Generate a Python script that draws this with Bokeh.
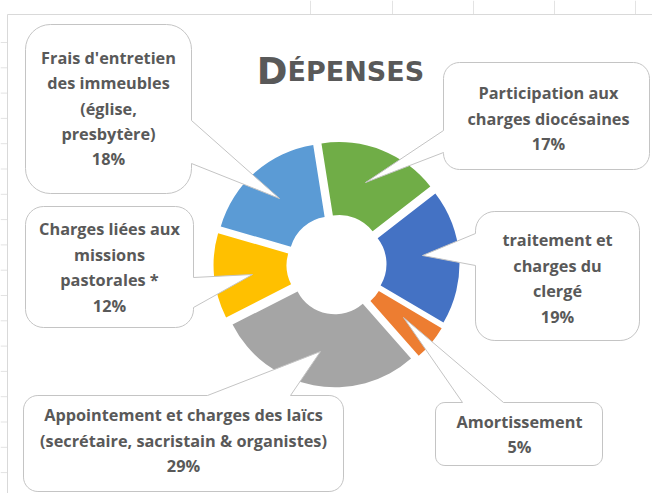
import math
from bokeh.plotting import figure
from bokeh.models import Range1d, ColumnDataSource
from bokeh.core.properties import value
from bokeh.embed import file_html
from bokeh.resources import INLINE

# ---------------- data ----------------
categories = [
    "Participation aux charges diocésaines",
    "traitement et charges du clergé",
    "Amortissement",
    "Appointement et charges des laïcs (secrétaire, sacristain & organistes)",
    "Charges liées aux missions pastorales *",
    "Frais d'entretien des immeubles (église, presbytère)",
]
values = [17, 19, 5, 29, 12, 18]
colors = ["#70AD47", "#4472C4", "#ED7D31", "#A5A5A5", "#FFC000", "#5B9BD5"]
label_lines = [
    ["Participation aux", "charges diocésaines"],
    ["traitement et", "charges du", "clergé"],
    ["Amortissement"],
    ["Appointement et charges des laïcs", "(secrétaire, sacristain & organistes)"],
    ["Charges liées aux", "missions", "pastorales *"],
    ["Frais d'entretien", "des immeubles", "(église,", "presbytère)"],
]
title_first = "D"
title_rest = "ÉPENSES"

# ---------------- layout (pixel coords, y down) ----------------
W, H = 652, 493
CX, CY = 336, 264
R_OUT, R_IN, EXPLODE = 115, 42, 8
FIRST_ANGLE = -9.0  # degrees, clockwise from top

# callouts: box (x0, y0, x1, y1), pointer side, base span, tip, text centre
callouts = [
    dict(box=(443, 62, 649, 169), side="left", base=(130, 152), tip=(365, 182), tx=548, ty=118),
    dict(box=(475, 211, 639, 340), side="left", base=(233, 265), tip=(422, 255), tx=557, ty=278),
    dict(box=(435, 402, 602, 465), side="top", base=(462, 503), tip=(403, 317), tx=519, ty=434),
    dict(box=(23, 395, 343, 491), side="top", base=(207, 290), tip=(320, 351), tx=183, ty=440),
    dict(box=(25, 206, 193, 327), side="right", base=(277, 307), tip=(252, 274), tx=109, ty=267),
    dict(box=(25, 24, 191, 193), side="right", base=(120, 163), tip=(279, 198), tx=108, ty=108),
]
LINE_STEP = 25.4
FONT = "Open Sans"
TITLE_FONT = "DejaVu Sans"
TXT_COLOR = "#595959"


def fy(py):
    return H - py


def arc_pts(cx, cy, r, a0, a1, n=8):
    pts = []
    for k in range(n + 1):
        a = math.radians(a0 + (a1 - a0) * k / n)
        pts.append((cx + r * math.cos(a), cy + r * math.sin(a)))
    return pts


def callout_path(c):
    x0, y0, x1, y1 = c["box"]
    rr = min(x1 - x0, y1 - y0) * 0.15
    b0, b1 = c["base"]
    tx, ty = c["tip"]
    side = c["side"]
    pts = [(x0 + rr, y0)]
    if side == "top":
        pts += [(b0, y0), (tx, ty), (b1, y0)]
    pts.append((x1 - rr, y0))
    pts += arc_pts(x1 - rr, y0 + rr, rr, -90, 0)
    if side == "right":
        pts += [(x1, b0), (tx, ty), (x1, b1)]
    pts.append((x1, y1 - rr))
    pts += arc_pts(x1 - rr, y1 - rr, rr, 0, 90)
    pts.append((x0 + rr, y1))
    pts += arc_pts(x0 + rr, y1 - rr, rr, 90, 180)
    if side == "left":
        pts += [(x0, b1), (tx, ty), (x0, b0)]
    pts.append((x0, y0 + rr))
    pts += arc_pts(x0 + rr, y0 + rr, rr, 180, 270)
    xs = [p[0] for p in pts]
    ys = [fy(p[1]) for p in pts]
    return xs, ys


p = figure(width=W, height=H, x_range=Range1d(0, W), y_range=Range1d(0, H),
           x_axis_type=None, y_axis_type=None, toolbar_location=None,
           output_backend="svg", min_border=0, outline_line_color=None,
           background_fill_color="white", border_fill_color="white")
p.grid.visible = False

# sheet gridline stubs and chart border
for gx in [310, 392, 473, 554, 635]:
    p.line([gx, gx], [fy(0), fy(14)], line_color="#E3E3E3", line_width=1)
gy = 42
while gy < H:
    p.line([0, 7], [fy(gy), fy(gy)], line_color="#E3E3E3", line_width=1)
    gy += 25.3
p.line([7, W], [fy(14), fy(14)], line_color="#D9D9D9", line_width=1)
p.line([7, 7], [fy(14), 0], line_color="#D9D9D9", line_width=1)

# doughnut slices
total = float(sum(values))
wx, wy, ws, we = [], [], [], []
acc = FIRST_ANGLE
for v in values:
    a0 = acc
    a1 = acc + 360.0 * v / total
    acc = a1
    mid = math.radians((a0 + a1) / 2)
    wx.append(CX + EXPLODE * math.sin(mid))
    wy.append(fy(CY) + EXPLODE * math.cos(mid))
    ws.append(math.radians(90 - a1))
    we.append(math.radians(90 - a0))
src = ColumnDataSource(dict(x=wx, y=wy, start=ws, end=we, color=colors, name=categories))
p.annular_wedge(x="x", y="y", inner_radius=R_IN, outer_radius=R_OUT,
                start_angle="start", end_angle="end", fill_color="color",
                line_color=None, source=src)

# callouts
for i, c in enumerate(callouts):
    xs, ys = callout_path(c)
    p.patch(xs, ys, fill_color="white", line_color="#C4C4C4", line_width=1)
    lines = label_lines[i] + [f"{values[i]}%"]
    n = len(lines)
    tys = [c["ty"] + (k - (n - 1) / 2) * LINE_STEP for k in range(n)]
    p.text(x=[c["tx"]] * n, y=[fy(t) for t in tys], text=lines,
           text_font=value(FONT), text_font_style="bold", text_font_size="16.3px",
           text_color=TXT_COLOR, text_align="center", text_baseline="middle")

# title (small caps style)
p.text(x=[287], y=[fy(71)], text=[title_first], text_font=value(TITLE_FONT),
       text_font_style="bold", text_font_size="37px", text_color=TXT_COLOR,
       text_align="right", text_baseline="alphabetic")
p.text(x=[287], y=[fy(71)], text=[title_rest], text_font=value(TITLE_FONT),
       text_font_style="bold", text_font_size="27px", text_color=TXT_COLOR,
       text_align="left", text_baseline="alphabetic")

open("out.html", "w").write(file_html(p, INLINE))
